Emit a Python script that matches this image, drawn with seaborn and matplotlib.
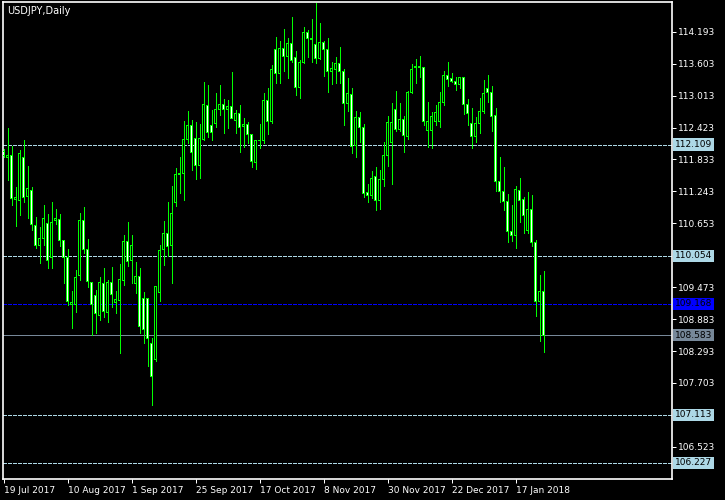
import numpy as np
import pandas as pd
import matplotlib
matplotlib.use('Agg')
import matplotlib.pyplot as plt
import matplotlib.transforms as mtransforms
import seaborn as sns

symbol = 'USDJPY,Daily'

# daily OHLC (19 Jul 2017 .. 25 Jan 2018)
open_ = [111.989, 111.865, 111.897, 111.084, 111.071, 111.873, 111.145, 111.268, 110.616, 110.239,
         110.376, 110.653, 110.025, 110.701, 110.727, 110.332, 110.025, 109.156, 109.144, 109.692,
         110.696, 110.173, 109.556, 109.328, 108.959, 109.544, 109.009, 109.563, 109.186, 109.223,
         109.605, 110.326, 109.962, 109.544, 109.666, 109.267, 109.267, 108.436, 108.140, 109.378,
         110.173, 110.468, 110.234, 111.034, 111.546, 111.577, 112.205, 112.456, 112.224, 111.717,
         112.205, 112.833, 112.451, 112.488, 112.747, 112.852, 112.747, 112.808, 112.549, 112.686,
         112.438, 112.482, 112.285, 111.780, 112.174, 112.192, 112.931, 112.530, 113.868, 113.425,
         113.887, 113.731, 113.979, 113.713, 113.166, 113.620, 114.182, 114.071, 113.960, 113.702,
         113.990, 113.868, 113.467, 113.486, 113.609, 113.467, 112.870, 113.037, 112.094, 112.612,
         112.427, 111.218, 111.176, 111.527, 111.071, 111.466, 111.902, 112.150, 112.747, 112.390,
         112.562, 112.253, 113.074, 113.535, 113.547, 113.535, 112.359, 112.359, 112.543, 112.530,
         112.889, 113.393, 113.332, 113.282, 113.221, 113.351, 112.852, 112.501, 112.253, 112.501,
         112.715, 113.135, 113.074, 112.636, 111.422, 111.237, 111.065, 110.511, 110.424, 111.263,
         111.084, 110.529, 110.917, 110.302, 109.205, 109.402]
high = [112.026, 112.408, 112.081, 111.329, 112.007, 112.192, 111.712, 111.329, 110.775, 110.590,
        110.991, 110.819, 111.052, 110.912, 110.819, 110.345, 110.173, 109.402, 109.790, 110.838,
        110.949, 110.357, 109.574, 109.421, 109.666, 109.822, 109.605, 109.851, 109.402, 109.901,
        110.437, 110.683, 110.437, 109.944, 109.822, 109.378, 109.280, 108.528, 109.495, 110.252,
        110.696, 111.052, 111.342, 111.669, 111.873, 112.543, 112.728, 112.562, 112.530, 112.488,
        113.269, 113.208, 112.747, 113.055, 113.208, 112.944, 112.931, 113.454, 112.747, 112.839,
        112.604, 112.530, 112.298, 112.192, 112.482, 113.055, 113.147, 113.578, 114.090, 114.021,
        114.238, 114.071, 114.459, 113.837, 113.670, 114.275, 114.225, 114.422, 114.718, 114.348,
        114.021, 114.071, 113.628, 113.720, 113.905, 113.499, 113.332, 113.147, 112.728, 112.704,
        112.488, 111.379, 111.619, 111.699, 111.638, 112.150, 112.636, 112.870, 113.098, 112.870,
        112.636, 113.103, 113.596, 113.689, 113.744, 113.550, 112.900, 112.715, 112.839, 113.085,
        113.467, 113.639, 113.425, 113.362, 113.362, 113.362, 112.950, 112.789, 112.623, 112.963,
        113.301, 113.393, 113.190, 112.778, 111.873, 111.688, 111.194, 110.991, 111.342, 111.485,
        111.133, 111.237, 111.176, 110.345, 109.698, 109.772]
low = [111.878, 111.453, 110.991, 110.603, 110.806, 111.052, 110.757, 110.529, 110.191, 109.914,
       110.252, 109.833, 109.833, 110.640, 110.234, 109.544, 109.144, 108.713, 109.020, 109.605,
       110.099, 109.482, 108.589, 108.621, 108.866, 108.927, 108.835, 109.112, 109.001, 108.251,
       109.513, 109.864, 109.544, 109.360, 108.621, 108.436, 108.016, 107.296, 108.114, 109.223,
       109.883, 110.049, 109.544, 110.973, 111.207, 111.084, 112.131, 111.638, 111.466, 111.496,
       112.192, 112.242, 112.192, 112.438, 112.654, 112.316, 112.408, 112.593, 112.327, 111.976,
       112.068, 112.131, 111.688, 111.651, 112.039, 112.131, 112.303, 112.512, 113.240, 113.240,
       113.473, 113.332, 113.639, 113.024, 112.963, 113.609, 113.731, 113.639, 113.620, 113.690,
       113.375, 113.085, 113.221, 113.240, 113.240, 112.469, 112.734, 111.946, 111.884, 112.161,
       111.145, 111.052, 111.115, 110.899, 110.912, 111.348, 111.712, 111.379, 112.364, 112.364,
       111.976, 112.211, 113.066, 113.240, 113.362, 112.469, 112.068, 112.039, 112.469, 112.438,
       112.839, 113.196, 113.258, 113.116, 113.147, 112.667, 112.469, 112.050, 112.161, 112.316,
       112.700, 112.889, 112.364, 111.250, 111.041, 110.899, 110.313, 110.326, 110.191, 110.683,
       110.479, 110.479, 110.239, 108.946, 108.478, 108.269]
close = [111.915, 111.915, 111.108, 111.121, 111.946, 111.133, 111.300, 110.635, 110.239, 110.376,
         110.745, 109.975, 110.672, 110.745, 110.332, 110.025, 109.205, 109.186, 109.655, 110.696,
         110.173, 109.574, 109.144, 108.990, 109.563, 109.020, 109.563, 109.341, 109.249, 109.618,
         110.326, 109.944, 110.252, 109.679, 108.743, 108.694, 108.528, 107.832, 109.482, 110.147,
         110.468, 110.221, 110.838, 111.558, 111.577, 112.205, 112.469, 111.958, 111.717, 112.224,
         112.839, 112.327, 112.327, 112.759, 112.857, 112.747, 112.820, 112.593, 112.686, 112.427,
         112.482, 112.285, 111.791, 112.179, 112.192, 112.931, 112.530, 113.504, 113.425, 113.887,
         113.731, 113.979, 113.657, 113.166, 113.628, 114.182, 114.071, 114.040, 113.702, 113.990,
         113.868, 113.467, 113.517, 113.609, 113.467, 112.870, 113.055, 112.081, 112.612, 112.427,
         111.207, 111.176, 111.485, 111.071, 111.466, 111.902, 112.519, 112.519, 112.390, 112.562,
         112.272, 113.074, 113.486, 113.554, 113.528, 112.530, 112.530, 112.623, 112.704, 112.889,
         113.393, 113.319, 113.269, 113.221, 113.343, 112.852, 112.686, 112.253, 112.501, 112.715,
         113.055, 113.074, 112.623, 111.422, 111.237, 111.052, 110.498, 110.424, 111.287, 111.071,
         110.806, 110.917, 110.295, 109.205, 109.402, 108.583]

date_labels = ['19 Jul 2017', '10 Aug 2017', '1 Sep 2017', '25 Sep 2017', '17 Oct 2017',
               '8 Nov 2017', '30 Nov 2017', '22 Dec 2017', '17 Jan 2018']
price_ticks = [114.193, 113.603, 113.013, 112.423, 111.833, 111.243, 110.653,
               109.473, 108.883, 108.293, 107.703, 106.523]
levels = [112.109, 110.054, 109.168, 108.583, 107.113, 106.227]
level_colors = ['#add8e6', '#add8e6', '#0000ff', '#778899', '#add8e6', '#add8e6']

df = pd.DataFrame({'open': open_, 'high': high, 'low': low, 'close': close})
df['x'] = np.arange(len(df))
df['bull'] = df['close'] >= df['open']

sns.set_theme(style='dark', rc={'axes.facecolor': 'black', 'figure.facecolor': 'black',
                                'axes.edgecolor': 'white', 'text.color': 'white',
                                'xtick.color': 'white', 'ytick.color': 'white'})
plt.rcParams['font.family'] = ['DejaVu Sans']

px = 72 / 100  # one pixel in points
green = '#00ff00'
ylo, yhi = 105.929, 114.742
py = (yhi - ylo) / 477  # one pixel in price units

fig = plt.figure(figsize=(7.25, 5), dpi=100)
ax = fig.add_axes([3 / 725, 21 / 500, 669 / 725, 477 / 500])

# wicks
ax.vlines(df['x'], df['low'], df['high'], color=green, linewidth=px,
          antialiased=False, zorder=2)
# bodies: green frame, inner fill black = up, white = down
top = df[['open', 'close']].max(axis=1) + py / 2
bot = df[['open', 'close']].min(axis=1) - py / 2
frame = ax.bar(df['x'], top - bot, bottom=bot, width=0.75, color=green,
               linewidth=0, zorder=3)
inner_h = (top - bot - 2 * py).clip(lower=0)
inner = ax.bar(df['x'], inner_h, bottom=bot + py, width=0.27,
               color=np.where(df['bull'], 'black', 'white'), linewidth=0, zorder=4)
for b in list(frame) + list(inner):
    b.set_antialiased(False)

# horizontal levels with price boxes
trans = mtransforms.blended_transform_factory(ax.transAxes, ax.transData)
for val, col in zip(levels, level_colors):
    ls = '-' if col == '#778899' else (0, (3, 2))
    ax.axhline(val, color=col, linewidth=px, linestyle=ls, antialiased=False, zorder=1)
    ax.text(1.0045, val, f'{val:.3f}', transform=trans, ha='left', va='center',
            fontsize=6.5, color='black', clip_on=False,
            bbox=dict(boxstyle='square,pad=0.18', fc=col, ec='none'))

# candle centres land on pixel centres
ax.set_xlim(-0.125, 167.125)
ax.set_ylim(ylo, yhi)

ax.yaxis.tick_right()
ax.set_yticks(price_ticks)
ax.set_yticklabels([f'{v:.3f}' for v in price_ticks])
ax.set_xticks(np.arange(len(date_labels)) * 16)
ax.set_xticklabels(date_labels)
for lbl in ax.get_xticklabels():
    lbl.set_horizontalalignment('left')
ax.tick_params(axis='y', which='both', right=True, left=False, length=3, width=px,
               pad=1.5, labelsize=6.5, colors='white')
ax.tick_params(axis='x', which='both', bottom=True, length=3, width=px,
               pad=2, labelsize=6.5, colors='white')
ax.grid(False)
for sp in ax.spines.values():
    sp.set_color('white')
    sp.set_linewidth(1.2)

ax.text(0.0055, 0.992, symbol, transform=ax.transAxes, ha='left', va='top',
        fontsize=7, color='white')

fig.savefig('out.png', dpi=100, facecolor='black')
